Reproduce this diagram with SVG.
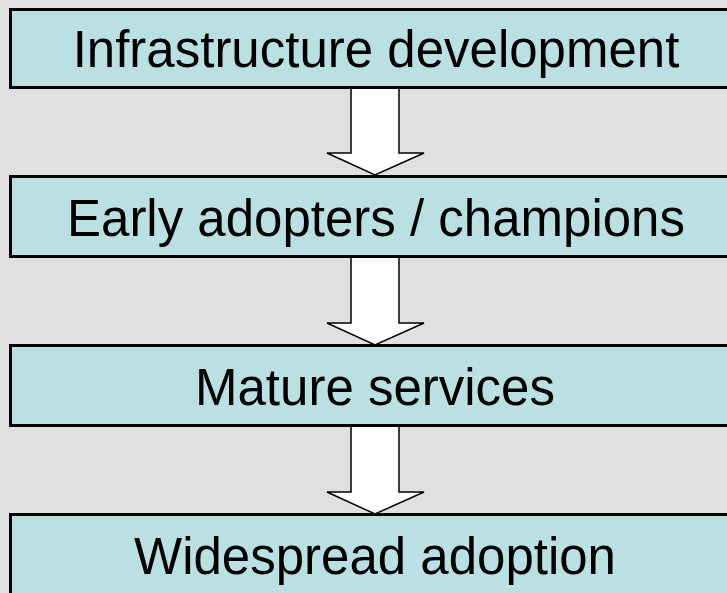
<svg xmlns="http://www.w3.org/2000/svg" width="727" height="593" viewBox="0 0 727 593">
<style>
.box{fill:#bbe0e3;stroke:#000;stroke-width:3}
.lbl{font-family:"Liberation Sans",Arial,sans-serif;font-size:51px;fill:#000;text-anchor:middle}
.arr{fill:#fff;stroke:#000;stroke-width:1.5;stroke-linejoin:miter}
</style>
<rect width="727" height="593" fill="#e0e0e0"/>
<g id="connectors">
<polygon class="arr" points="351,88 399,88 399,153 424,153 375,175 327,153 351,153"/>
<polygon class="arr" points="351,257 399,257 399,323 424,323 375,345 327,323 351,323"/>
<polygon class="arr" points="351,426 399,426 399,492 424,492 375,514 327,492 351,492"/>
</g>
<g id="n1"><rect class="box" x="10.5" y="9.5" width="740" height="78"/><text class="lbl" x="376" y="67">Infrastructure development</text></g>
<g id="n2"><rect class="box" x="10.5" y="176.5" width="740" height="80"/><text class="lbl" x="376" y="236">Early adopters / champions</text></g>
<g id="n3"><rect class="box" x="10.5" y="345.5" width="740" height="80"/><text class="lbl" x="375" y="405">Mature services</text></g>
<g id="n4"><rect class="box" x="10.5" y="514.5" width="740" height="100"/><text class="lbl" x="375" y="574">Widespread adoption</text></g>
</svg>
